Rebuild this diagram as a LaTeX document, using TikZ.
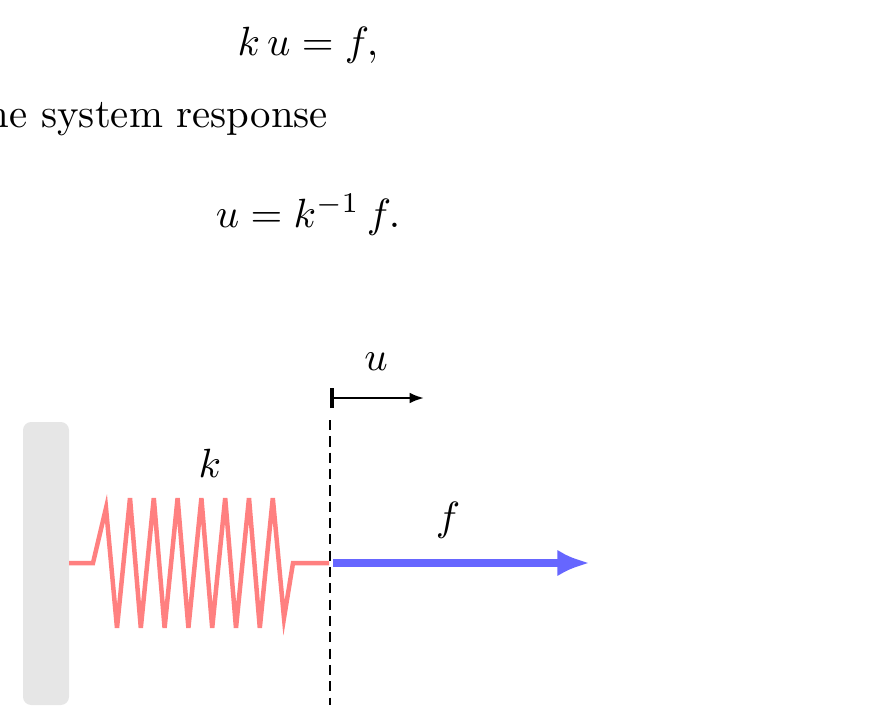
\documentclass[tikz,border=0pt]{standalone}
\usetikzlibrary{arrows.meta}
\definecolor{cspring}{RGB}{255,128,128}
\definecolor{cforce}{RGB}{102,102,255}
\definecolor{cwall}{RGB}{230,230,230}

\begin{document}
\begin{tikzpicture}[x=0.245pt, y=-0.245pt, inner sep=0pt, outer sep=0pt,
  spring/.style={draw=cspring, line width=1.1pt, line join=miter},
  force/.style={draw=cforce, line width=2.2pt, -{Latex[length=8pt,width=6.5pt]}},
  disp/.style={draw=black, line width=0.6pt, {Bar[width=5pt,line width=0.9pt]}-{Latex[length=3.5pt]}}]
  \useasboundingbox (0,0) rectangle (882,713);
  \clip (0,0) rectangle (882,713);

  % equations
  \node (eqa) at (308,45) {$k\,u = f,$};
  \node[anchor=east] (resp) at (328,118) {the system response};
  \node (eqb) at (308,215) {$u = k^{-1}\,f.$};

  % wall
  \path[fill=cwall, rounded corners=2pt] (23,422) rectangle (69,705);

  % spring
  \coordinate (springa) at (69,563);
  \coordinate (springb) at (329,563);
  \draw[spring] (springa) -- (93,563) -- (106,508)
    \foreach \i in {0,...,6}{ -- ({117+23.8*\i},628) -- ({130+23.8*\i},498) }
    -- (284,618) -- (293,563) -- (springb);
  \node (klabel) at (210,463) {$k$};

  % displacement
  \draw[dash pattern=on 2.5pt off 1.5pt, line width=0.3pt] (330,420) -- (330,705);
  \coordinate (ua) at (330,398);
  \coordinate (ub) at (424,398);
  \draw[disp] (ua) -- (ub);
  \node (ulabel) at (376,362) {$u$};

  % force
  \coordinate (fa) at (333,563);
  \coordinate (fb) at (590,563);
  \draw[force] (fa) -- (fb);
  \node (flabel) at (448,520) {$f$};
\end{tikzpicture}
\end{document}
